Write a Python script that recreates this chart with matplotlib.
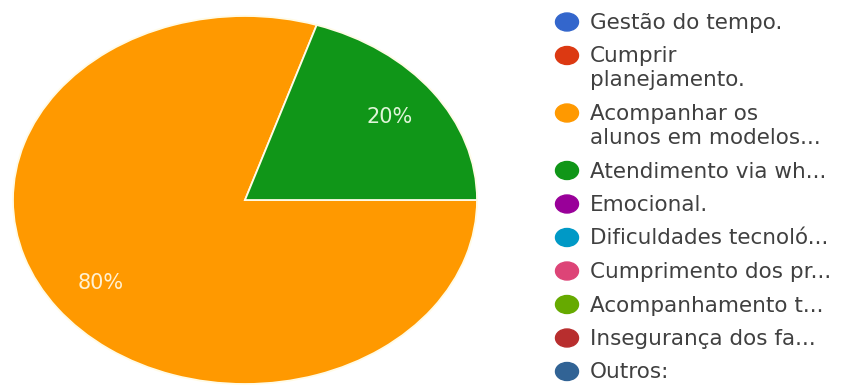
import matplotlib.pyplot as plt
from matplotlib.patches import Ellipse

categories = [
    "Gestão do tempo.",
    "Cumprir\nplanejamento.",
    "Acompanhar os\nalunos em modelos...",
    "Atendimento via wh...",
    "Emocional.",
    "Dificuldades tecnoló...",
    "Cumprimento dos pr...",
    "Acompanhamento t...",
    "Insegurança dos fa...",
    "Outros:",
]
values = [0, 0, 80, 20, 0, 0, 0, 0, 0, 0]
colors = ["#3366CC", "#DC3912", "#FF9900", "#109618", "#990099",
          "#0099C6", "#DD4477", "#66AA00", "#B82E2E", "#316395"]

plt.rcParams['font.family'] = ['DejaVu Sans']

W, H = 845, 386
fig = plt.figure(figsize=(W / 100, H / 100), dpi=100)

# pie, stretched into an ellipse like the screenshot
ax = fig.add_axes([13 / W, 2 / H, 464 / W, 368 / H])
vals = [v for v in values if v > 0]
cols = [c for v, c in zip(values, colors) if v > 0]
wedges, texts, autotexts = ax.pie(
    vals, colors=cols, startangle=72, counterclock=True,
    autopct='%d%%', pctdistance=0.77,
    wedgeprops=dict(edgecolor='#fffbe6', linewidth=1.3),
    textprops=dict(fontsize=15))
autotexts[0].set_color('#fff1d2')
autotexts[1].set_color('#dff5d8')
ax.set_aspect('auto')
ax.set_xlim(-1.0, 1.0)
ax.set_ylim(-1.0, 1.0)
ax.axis('off')

# legend drawn by hand, pixel coordinates
lax = fig.add_axes([545 / W, 0, 300 / W, 1])
lax.set_xlim(545, 845)
lax.set_ylim(H, 0)
lax.axis('off')

y = 22
for label, c in zip(categories, colors):
    lax.add_patch(Ellipse((567, y), 23, 18, color=c))
    lines = label.split("\n")
    for i, line in enumerate(lines):
        lax.text(590, y + 24 * i + 1, line, va='center', ha='left',
                 fontsize=15.5, color='#404040')
    y += 33.5 + 24 * (len(lines) - 1)

fig.savefig("out.png", dpi=100)
